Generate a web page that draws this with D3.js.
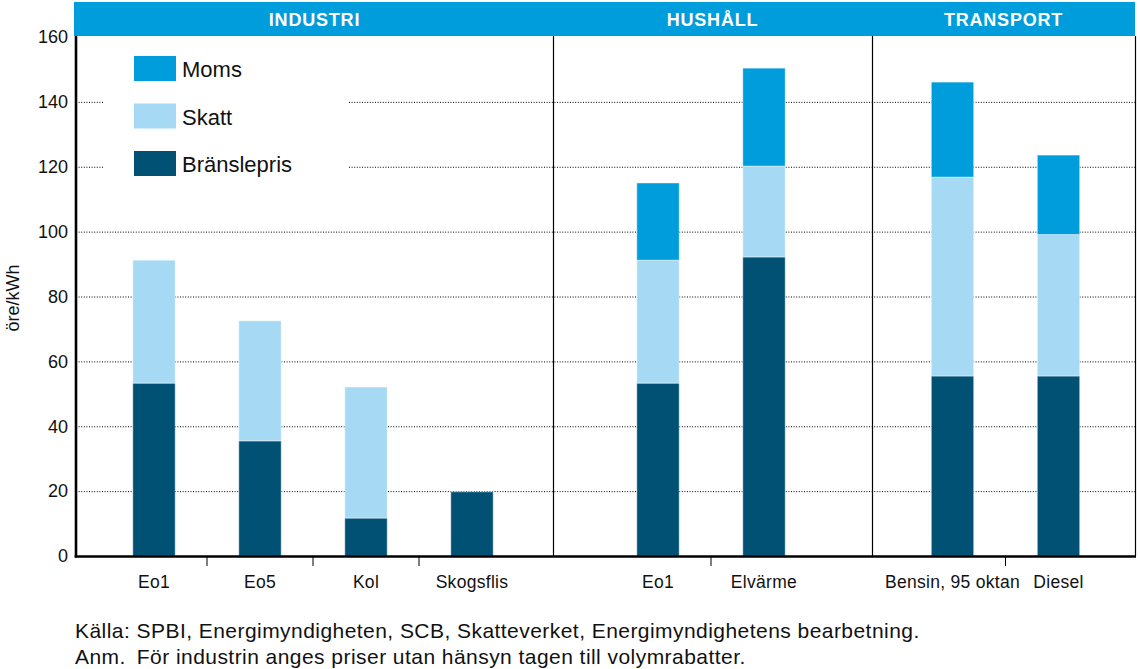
<!DOCTYPE html>
<html>
<head>
<meta charset="utf-8">
<script src="https://cdn.jsdelivr.net/npm/d3@7"></script>
<style>
  body { margin: 0; background: #fff; }
  svg { display: block; font-family: "Liberation Sans", Arial, sans-serif; }
</style>
</head>
<body>
<div id="chart"></div>
<script>
// --- data (öre/kWh) ---
var groupNames = ["INDUSTRI", "HUSHÅLL", "TRANSPORT"];
var categories = ["Eo1", "Eo5", "Kol", "Skogsflis", "Eo1", "Elvärme", "Bensin, 95 oktan", "Diesel"];
var categoryGroup = [0, 0, 0, 0, 1, 1, 2, 2];
var branslepris = [53.3, 35.5, 11.7, 19.8, 53.3, 92.2, 55.5, 55.5];
var skatt = [37.9, 37.0, 40.4, 0, 37.9, 28.0, 61.3, 43.6];
var moms = [0, 0, 0, 0, 23.8, 30.2, 29.3, 24.5];
var seriesKeys = ["Bränslepris", "Skatt", "Moms"];
var legendOrder = ["Moms", "Skatt", "Bränslepris"];
var yTicks = [0, 20, 40, 60, 80, 100, 120, 140, 160];
var yLabel = "öre/kWh";
var footnotes = [
  "Källa: SPBI, Energimyndigheten, SCB, Skatteverket, Energimyndighetens bearbetning.",
  "Anm.\u2002För industrin anges priser utan hänsyn tagen till volymrabatter."
];

// --- layout ---
var W = 1140, H = 669;
var plot = { left: 76, right: 1135, top: 37, bottom: 556 };
var groupEdges = [76, 553, 872, 1135];       // panel borders
var bandRanges = [[101, 525], [605, 817], [899.5, 1111.5]]; // where the bars of each panel sit
var colors = { "Moms": "#009ddc", "Skatt": "#a6daf4", "Bränslepris": "#005173" };

var svg = d3.select("#chart").append("svg")
  .attr("width", W)
  .attr("height", H);

var y = d3.scaleLinear().domain([0, 160]).range([plot.bottom, plot.top]);

// one band scale per panel
var xScales = groupNames.map(function(g, gi) {
  var idx = d3.range(categories.length).filter(function(i) { return categoryGroup[i] === gi; });
  return d3.scaleBand().domain(idx).range(bandRanges[gi]).paddingInner(0.6).paddingOuter(0.3);
});
function xOf(i) { return xScales[categoryGroup[i]](i); }
function bw(i) { return xScales[categoryGroup[i]].bandwidth(); }

// table for the stack
var table = categories.map(function(c, i) {
  return { idx: i, "Bränslepris": branslepris[i], "Skatt": skatt[i], "Moms": moms[i] };
});
var stacked = d3.stack().keys(seriesKeys)(table);

// gridlines
svg.append("g")
  .selectAll("line")
  .data(yTicks.filter(function(t) { return t > 0 && t < 160; }))
  .enter().append("line")
  .attr("x1", plot.left).attr("x2", plot.right)
  .attr("y1", function(d) { return y(d) + 0.5; })
  .attr("y2", function(d) { return y(d) + 0.5; })
  .attr("stroke", "#000")
  .attr("stroke-width", 1)
  .attr("stroke-dasharray", "1,1.6");

// white box behind the legend hides the grid
svg.append("rect")
  .attr("x", 104).attr("y", 44)
  .attr("width", 245).attr("height", 145)
  .attr("fill", "#fff");

// bars
svg.append("g")
  .selectAll("g")
  .data(stacked)
  .enter().append("g")
  .attr("fill", function(d) { return colors[d.key]; })
  .selectAll("rect")
  .data(function(d) { return d; })
  .enter().append("rect")
  .filter(function(d) { return d[1] - d[0] > 0; })
  .attr("x", function(d) { return xOf(d.data.idx); })
  .attr("width", function(d) { return bw(d.data.idx); })
  .attr("y", function(d) { return y(d[1]); })
  .attr("height", function(d) { return y(d[0]) - y(d[1]); })
  .attr("stroke", "rgba(255,255,255,0.45)")
  .attr("stroke-width", 1);

// panel dividers and right border
svg.append("g")
  .selectAll("line")
  .data(groupEdges.slice(1))
  .enter().append("line")
  .attr("x1", function(d) { return d + 0.5; })
  .attr("x2", function(d) { return d + 0.5; })
  .attr("y1", plot.top - 1).attr("y2", plot.bottom)
  .attr("stroke", "#000").attr("stroke-width", 1.2);

// y axis
var yAxis = svg.append("g")
  .attr("transform", "translate(" + plot.left + ",0)")
  .call(d3.axisLeft(y).tickValues(yTicks).tickSize(0).tickPadding(8));
yAxis.select(".domain").remove();
yAxis.selectAll("text")
  .attr("font-size", 18)
  .attr("font-family", "Liberation Sans, Arial, sans-serif")
  .attr("fill", "#111");

svg.append("line")
  .attr("x1", plot.left).attr("x2", plot.left)
  .attr("y1", plot.top - 1).attr("y2", plot.bottom + 1.5)
  .attr("stroke", "#000").attr("stroke-width", 2.6);

// baseline
svg.append("line")
  .attr("x1", plot.left - 1.3).attr("x2", plot.right + 1)
  .attr("y1", plot.bottom + 0.5).attr("y2", plot.bottom + 0.5)
  .attr("stroke", "#000").attr("stroke-width", 2.6);

// ticks between categories of the same panel
xScales.forEach(function(sc) {
  var dom = sc.domain();
  var ticks = dom.slice(1).map(function(i) {
    return sc(i) - sc.step() * sc.paddingInner() / 2;
  });
  svg.append("g")
    .selectAll("line")
    .data(ticks)
    .enter().append("line")
    .attr("x1", function(d) { return d; })
    .attr("x2", function(d) { return d; })
    .attr("y1", plot.bottom + 1).attr("y2", plot.bottom + 10)
    .attr("stroke", "#000").attr("stroke-width", 1);
});

// category labels
svg.append("g")
  .selectAll("text")
  .data(categories)
  .enter().append("text")
  .attr("x", function(d, i) { return xOf(i) + bw(i) / 2; })
  .attr("y", 588)
  .attr("text-anchor", "middle")
  .attr("font-size", 17.5)
  .attr("letter-spacing", 0.3)
  .attr("fill", "#111")
  .text(function(d) { return d; });

// header band
svg.append("rect")
  .attr("x", groupEdges[0] - 2).attr("y", 2)
  .attr("width", groupEdges[3] - groupEdges[0] + 2).attr("height", 34)
  .attr("fill", "#009ddc");

svg.append("g")
  .selectAll("text")
  .data(groupNames)
  .enter().append("text")
  .attr("x", function(d, i) { return (groupEdges[i] + groupEdges[i + 1]) / 2; })
  .attr("y", 26)
  .attr("text-anchor", "middle")
  .attr("font-size", 18)
  .attr("font-weight", "bold")
  .attr("letter-spacing", 0.8)
  .attr("fill", "#fff")
  .text(function(d) { return d; });

// legend
var legend = svg.append("g").attr("transform", "translate(134,56)");
var li = legend.selectAll("g")
  .data(legendOrder)
  .enter().append("g")
  .attr("transform", function(d, i) { return "translate(0," + (i * 47.5) + ")"; });
li.append("rect")
  .attr("width", 42).attr("height", 25)
  .attr("fill", function(d) { return colors[d]; });
li.append("text")
  .attr("x", 48).attr("y", 21)
  .attr("font-size", 22)
  .attr("fill", "#111")
  .text(function(d) { return d; });

// y axis title
svg.append("text")
  .attr("transform", "translate(19,298) rotate(-90)")
  .attr("text-anchor", "middle")
  .attr("font-size", 18)
  .attr("fill", "#111")
  .text(yLabel);

// footnotes
svg.append("g")
  .selectAll("text")
  .data(footnotes)
  .enter().append("text")
  .attr("x", 75)
  .attr("y", function(d, i) { return 638 + i * 26; })
  .attr("font-size", 21)
  .attr("letter-spacing", 0.45)
  .attr("fill", "#111")
  .text(function(d) { return d; });
</script>
</body>
</html>
